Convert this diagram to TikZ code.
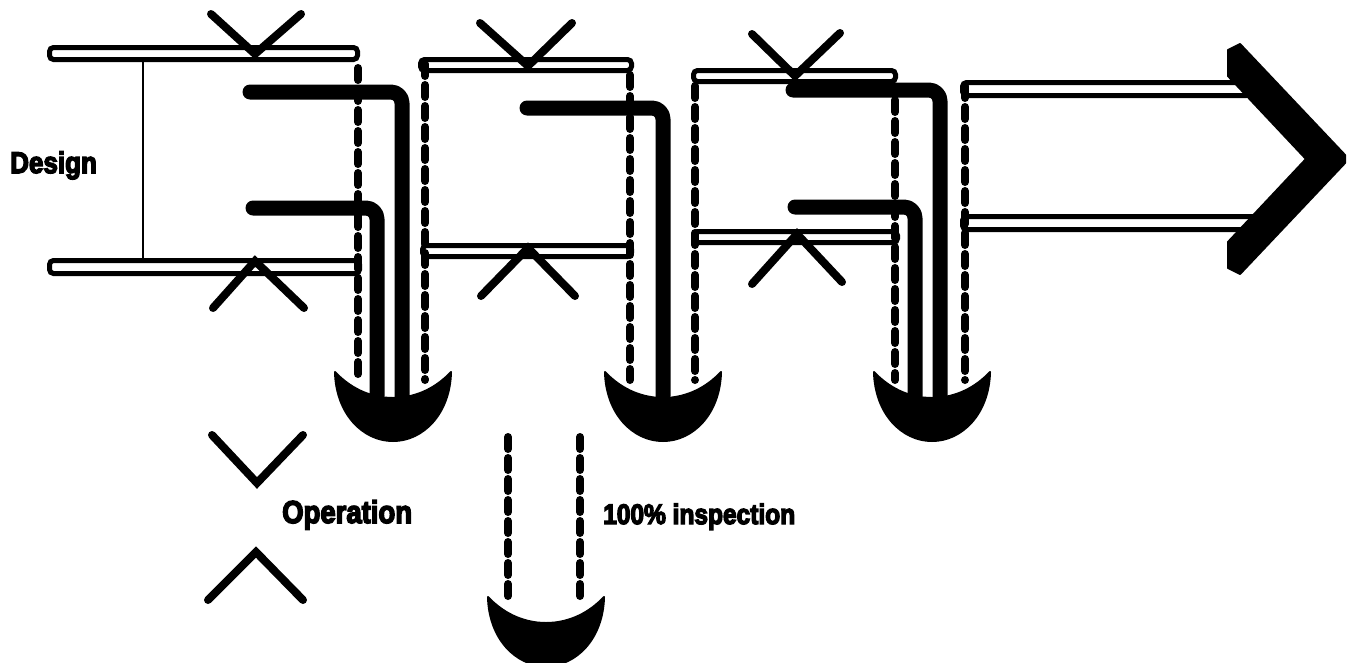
\documentclass[tikz,border=0pt]{standalone}
\usepackage{fontspec}
\newfontfamily\labelfont[FakeBold=5]{Liberation Sans Bold}
\newcommand\tallbox[1]{\scalebox{1}[1.15]{#1}}
\begin{document}
\begin{tikzpicture}[x=1pt,y=-1pt,
  bar/.style={line width=5pt, rounded corners=4pt},
  opmark/.style={line width=8pt, line cap=round, line join=miter},
  insp/.style={line width=8pt, line cap=round, dash pattern=on 12pt off 9pt},
  flow/.style={line width=15pt, rounded corners=11pt, line cap=round, line join=round},
  designline/.style={line width=2.8pt},
  solidfill/.style={fill=black, draw=black, line width=2pt, line join=round},
  lbl/.style={font=\labelfont, inner sep=0pt, anchor=base west},
  cup/.pic={\filldraw[solidfill] (-58,0) .. controls (-57,42) and (-30,69) .. (0,69)
      .. controls (30,69) and (57,42) .. (58,0)
      .. controls (44,15) and (24,26) .. (0,26)
      .. controls (-24,26) and (-44,15) .. cycle;}]
\useasboundingbox (0,0) rectangle (1349,662);

% hollow bars of each stage
\draw[bar] (49.5,47.5) rectangle (357.5,59.5);
\draw[bar] (49.5,260.5) rectangle (359.5,273.5);
\draw[bar] (420.5,59.5) rectangle (631.5,70.5);
\draw[bar] (422.5,245.5) rectangle (631.5,256.5);
\draw[bar] (693.5,70.5) rectangle (895.5,81.5);
\draw[bar] (693.5,231.5) rectangle (897.5,242.5);
\draw[bar] (962.5,82.5) rectangle (1250,95.5);
\draw[bar] (962.5,216.5) rectangle (1256,229.5);

% design span
\coordinate (dtop) at (143,60);
\coordinate (dbot) at (143,260);
\draw[designline] (dtop) -- (dbot);

% operation marks
\draw[opmark] (211,14) -- (255,54) -- (301,14);
\draw[opmark] (213,308) -- (255,261) -- (304,308);
\draw[opmark] (480,23) -- (528,66) -- (572,23);
\draw[opmark] (481,296) -- (528,248) -- (575,296);
\draw[opmark] (752,34) -- (795,76) -- (840,33);
\draw[opmark] (752,284) -- (797,234) -- (842,282);

% inspection streams
\draw[insp] (358,68) -- (358,380);
\draw[insp] (425,64) -- (425,380);
\draw[insp] (630,75) -- (630,380);
\draw[insp] (695,86) -- (695,380);
\draw[insp] (895,100) -- (895,380);
\draw[insp] (965,86) -- (965,380);

% rejected flows
\draw[flow] (250,92) -- (402,92) -- (402,396);
\draw[flow] (253,208) -- (377,208) -- (377,396);
\draw[flow] (527,108) -- (663,108) -- (663,396);
\draw[flow] (793,90) -- (940,90) -- (940,396);
\draw[flow] (795,207) -- (915,207) -- (915,396);

% collecting cups
\pic (cupA) at (393,372) {cup};
\pic (cupB) at (663,372) {cup};
\pic (cupC) at (932,372) {cup};

% output arrow head
\filldraw[solidfill] (1228,50) -- (1240,44) -- (1345,155) -- (1345,163) -- (1240,274)
  -- (1228,268) -- (1228,242) -- (1306,159) -- (1228,76) -- cycle;

% legend
\draw[opmark] (212,435) -- (257,483) -- (303,435);
\draw[opmark] (208,600) -- (256,552) -- (303,600);
\draw[insp] (508,437) -- (508,600);
\draw[insp] (580,437) -- (580,600);
\pic (cupL) at (546,597) {cup};

\node[lbl] (design) at (10,173) {\tallbox{\fontsize{26}{26}\selectfont Design}};
\node[lbl] (operation) at (282,523) {\tallbox{\fontsize{27.5}{27.5}\selectfont Operation}};
\node[lbl] (inspection) at (603,524) {\tallbox{\fontsize{24.5}{24.5}\selectfont 100\% inspection}};
\end{tikzpicture}
\end{document}
